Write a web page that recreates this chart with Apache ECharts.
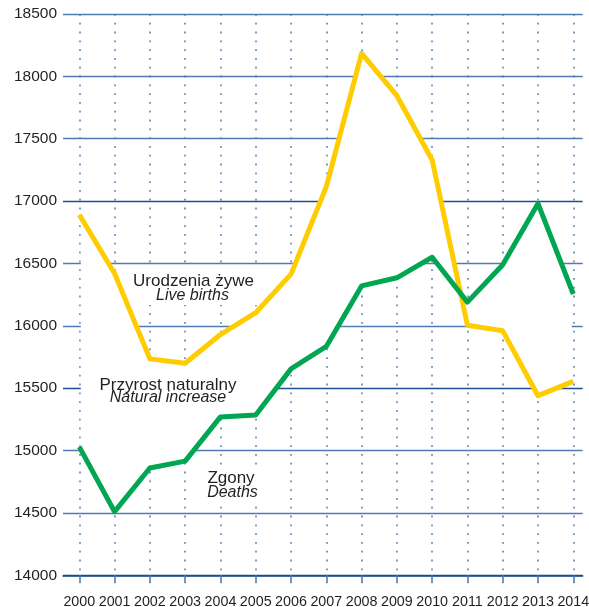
<!DOCTYPE html>
<html>
<head>
<meta charset="utf-8">
<script src="https://cdn.jsdelivr.net/npm/echarts@6/dist/echarts.min.js"></script>
<style>
html,body{margin:0;padding:0;background:#fff;}
#chart{width:589px;height:607px;}
</style>
</head>
<body>
<div id="chart"></div>
<script>
const years = ['2000', '2001', '2002', '2003', '2004', '2005', '2006', '2007', '2008', '2009', '2010', '2011', '2012', '2013', '2014'];
const liveBirths = [16890, 16420, 15735, 15700, 15930, 16105, 16415, 17115, 18185, 17845, 17330, 16005, 15960, 15440, 15555];
const deaths = [15030, 14510, 14860, 14915, 15270, 15285, 15655, 15835, 16320, 16385, 16550, 16190, 16490, 16980, 16255];
const yMin = 14000, yMax = 18500, yStep = 500;

const FONT = "'Liberation Sans', Arial, sans-serif";
const TXT = '#231f20';
const DARK = '#1d4f91', LIGHT = '#4f7bb2';

const chart = echarts.init(document.getElementById('chart'), null, {renderer: 'canvas'});

const option = {
  animation: false,
  backgroundColor: '#ffffff',
  grid: [
    {left: 63, right: 6.3, top: 14, bottom: 31.7, containLabel: false, outerBoundsMode: 'none'},
    {left: 79.3, right: 15.7, top: 14, bottom: 31.7, containLabel: false, outerBoundsMode: 'none'}
  ],
  xAxis: [
    {
      gridIndex: 0, type: 'value', min: 0, max: 1,
      axisLine: {show: true, onZero: false, lineStyle: {color: '#1a4a8a', width: 1.5}},
      axisTick: {show: false}, axisLabel: {show: false}, splitLine: {show: false}
    },
    {
      gridIndex: 1, type: 'category', data: years, boundaryGap: false,
      axisLine: {show: false},
      axisTick: {show: true, interval: 0, length: 8, lineStyle: {color: '#4a78b0', width: 1.5}},
      axisLabel: {interval: 0, color: TXT, fontFamily: FONT, fontSize: 14.3, margin: 20},
      splitLine: {show: true, interval: 0, lineStyle: {color: '#4a78b0', width: 1.5, type: [1.8, 7]}}
    }
  ],
  yAxis: [
    {
      gridIndex: 0, type: 'value', min: yMin, max: yMax, interval: yStep,
      axisLine: {show: false}, axisTick: {show: false},
      axisLabel: {color: TXT, fontFamily: FONT, fontSize: 15.5, margin: 6, formatter: v => String(v)},
      splitLine: {show: true, lineStyle: {color: [DARK, LIGHT, LIGHT, DARK, LIGHT, LIGHT, DARK, LIGHT, LIGHT, LIGHT], width: 1.3}}
    },
    {
      gridIndex: 1, type: 'value', min: yMin, max: yMax, interval: yStep,
      axisLine: {show: false}, axisTick: {show: false}, axisLabel: {show: false}, splitLine: {show: false}
    }
  ],
  graphic: [
    {type: 'rect', z: 1, shape: {x: 129, y: 268, width: 131, height: 37}, style: {fill: '#fff'}},
    {type: 'rect', z: 1, shape: {x: 97, y: 372, width: 142, height: 37}, style: {fill: '#fff'}},
    {type: 'rect', z: 1, shape: {x: 203, y: 468, width: 58, height: 35}, style: {fill: '#fff'}},
    {type: 'text', z: 3, style: {x: 193.5, y: 281.5, text: 'Urodzenia żywe', fill: TXT, font: '17px ' + FONT, textAlign: 'center', textVerticalAlign: 'middle'}},
    {type: 'text', z: 3, style: {x: 192.5, y: 296, text: 'Live births', fill: TXT, font: 'italic 16px ' + FONT, textAlign: 'center', textVerticalAlign: 'middle'}},
    {type: 'text', z: 3, style: {x: 168, y: 385, text: 'Przyrost naturalny', fill: TXT, font: '17px ' + FONT, textAlign: 'center', textVerticalAlign: 'middle'}},
    {type: 'text', z: 3, style: {x: 168, y: 398, text: 'Natural increase', fill: TXT, font: 'italic 16px ' + FONT, textAlign: 'center', textVerticalAlign: 'middle'}},
    {type: 'text', z: 3, style: {x: 231, y: 478, text: 'Zgony', fill: TXT, font: '17px ' + FONT, textAlign: 'center', textVerticalAlign: 'middle'}},
    {type: 'text', z: 3, style: {x: 232.5, y: 493, text: 'Deaths', fill: TXT, font: 'italic 16px ' + FONT, textAlign: 'center', textVerticalAlign: 'middle'}}
  ],
  series: [
    {
      type: 'custom',
      xAxisIndex: 1, yAxisIndex: 1,
      z: 1,
      silent: true,
      data: [[0, liveBirths[0]]],
      renderItem: function (params, api) {
        const n = years.length;
        const top = [], bottom = [];
        for (let i = 0; i < n; i++) {
          const a = api.coord([i, liveBirths[i]]);
          const b = api.coord([i, deaths[i]]);
          const inset = i === 0 ? 1.5 : (i === n - 1 ? -1.5 : 0);
          top.push([a[0] + inset, a[1]]);
          bottom.push([b[0] + inset, b[1]]);
        }
        const pts = top.concat(bottom.reverse());
        return {type: 'polygon', shape: {points: pts}, style: {fill: '#ffffff', stroke: null}};
      }
    },
    {
      name: 'Urodzenia żywe',
      type: 'line',
      xAxisIndex: 1, yAxisIndex: 1,
      z: 4,
      data: liveBirths,
      showSymbol: false,
      lineStyle: {color: '#ffcc00', width: 5, join: 'round'},
      itemStyle: {color: '#ffcc00'}
    },
    {
      name: 'Zgony',
      type: 'line',
      xAxisIndex: 1, yAxisIndex: 1,
      z: 5,
      data: deaths,
      showSymbol: false,
      lineStyle: {color: '#00a651', width: 5, join: 'round'},
      itemStyle: {color: '#00a651'}
    }
  ]
};
chart.setOption(option);
</script>
</body>
</html>
